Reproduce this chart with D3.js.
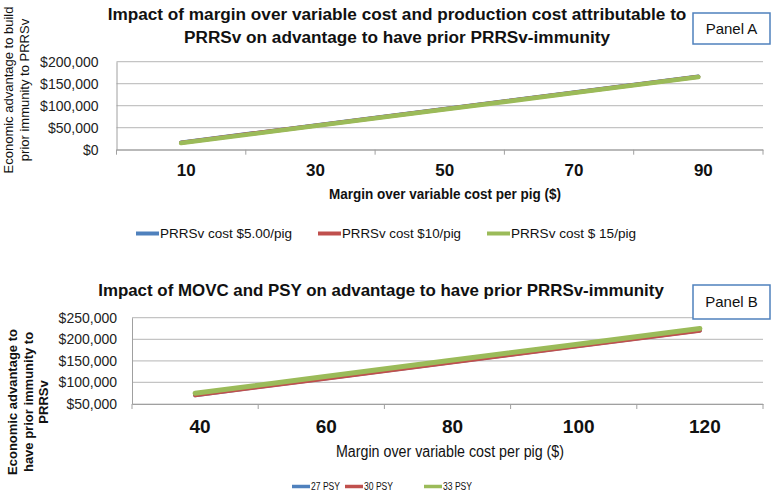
<!DOCTYPE html>
<html>
<head>
<meta charset="utf-8">
<script src="https://cdn.jsdelivr.net/npm/d3@7/dist/d3.min.js"></script>
<style>
  html, body { margin: 0; padding: 0; background: #fff; }
  svg { display: block; font-family: "Liberation Sans", Arial, sans-serif; }
</style>
</head>
<body>
<svg id="chart" width="774" height="493"></svg>
<script>
// ---------- Data ----------
const categoriesA = [10, 30, 50, 70, 90];
const seriesNamesA = ["PRRSv cost $5.00/pig", "PRRSv cost $10/pig", "PRRSv cost $ 15/pig"];
const prrsv5 = [16500, 54000, 91500, 129000, 166500];
const prrsv10 = [16000, 53500, 91000, 128500, 166000];
const prrsv15 = [15000, 52500, 90000, 127500, 165000];
const yTicksA = [0, 50000, 100000, 150000, 200000];

const categoriesB = [40, 60, 80, 100, 120];
const seriesNamesB = ["27 PSY", "30 PSY", "33 PSY"];
const psy27 = [70500, 108000, 145500, 183000, 220500];
const psy30 = [70000, 107500, 145000, 182500, 220000];
const psy33 = [75000, 112500, 150000, 187500, 225000];
const yTicksB = [50000, 100000, 150000, 200000, 250000];

const colors = ["#4F81BD", "#C0504D", "#9BBB59"];
const fmt = v => "$" + d3.format(",")(v);

const svg = d3.select("#chart");

function panel(cfg) {
  const g = svg.append("g");
  const x = d3.scaleBand().domain(cfg.categories).range([cfg.x0, cfg.x1]);
  const y = d3.scaleLinear().domain(cfg.yDomain).range([cfg.y1, cfg.y0]);

  // gridlines
  g.append("g").selectAll("line").data(cfg.yTicks).join("line")
    .attr("x1", cfg.x0).attr("x2", cfg.x1)
    .attr("y1", d => y(d)).attr("y2", d => y(d))
    .attr("stroke", "#c4c4c4").attr("stroke-width", 1.2);

  // y axis
  const ya = g.append("g").attr("transform", `translate(${cfg.x0},0)`)
    .call(d3.axisLeft(y).tickValues(cfg.yTicks).tickFormat(fmt).tickSize(0).tickPadding(cfg.yPad));
  ya.select(".domain").attr("stroke", "#a0a0a0");
  ya.selectAll("text").attr("font-size", cfg.yFont).attr("fill", "#222")
    .attr("font-family", "'Liberation Sans', Arial, sans-serif");

  // x axis
  const xa = g.append("g").attr("transform", `translate(0,${cfg.y1})`)
    .call(d3.axisBottom(x).tickSize(0).tickPadding(cfg.xPad));
  xa.select(".domain").attr("stroke", "#a0a0a0");
  xa.selectAll("text").attr("font-size", cfg.xFont).attr("font-weight", "bold").attr("fill", "#111")
    .attr("dx", cfg.xLabelShift).attr("font-family", "'Liberation Sans', Arial, sans-serif");
  // category boundary ticks
  const bounds = cfg.categories.map(c => x(c)).concat([cfg.x1]);
  g.append("g").selectAll("line").data(bounds).join("line")
    .attr("x1", d => d).attr("x2", d => d)
    .attr("y1", cfg.y1).attr("y2", cfg.y1 + 5)
    .attr("stroke", "#a0a0a0").attr("stroke-width", 1);

  // lines
  const line = d3.line().x((d, i) => x(cfg.categories[i]) + x.bandwidth() / 2).y(d => y(d));
  cfg.series.forEach((s, i) => {
    g.append("path").datum(s).attr("d", line)
      .attr("fill", "none").attr("stroke", colors[i])
      .attr("stroke-width", cfg.lineWidths[i]).attr("stroke-linecap", "round");
  });

  // titles
  cfg.title.forEach((t, i) => {
    g.append("text").attr("x", cfg.titleX).attr("y", cfg.titleY + i * cfg.titleLH)
      .attr("text-anchor", "middle").attr("font-weight", "bold")
      .attr("font-size", cfg.titleFont).attr("fill", "#111").text(t);
  });
  g.append("text").attr("x", cfg.xTitleX).attr("y", cfg.xTitleY)
    .attr("text-anchor", "middle").attr("font-weight", cfg.xTitleWeight)
    .attr("font-size", cfg.xTitleFont).attr("fill", "#111")
    .attr("textLength", cfg.xTitleLen).attr("lengthAdjust", "spacingAndGlyphs")
    .text(cfg.xTitle);

  cfg.yTitle.forEach((t, i) => {
    g.append("text")
      .attr("transform", `translate(${cfg.yTitleX[i]},${cfg.yTitleY}) rotate(-90)`)
      .attr("text-anchor", "middle").attr("font-weight", cfg.yTitleWeight)
      .attr("font-size", cfg.yTitleFont).attr("fill", "#111").text(t);
  });

  // legend
  const lg = g.append("g");
  cfg.seriesNames.forEach((n, i) => {
    const lx = cfg.legendX[i];
    lg.append("line").attr("x1", lx).attr("x2", lx + cfg.legendSw)
      .attr("y1", cfg.legendY).attr("y2", cfg.legendY)
      .attr("stroke", colors[i]).attr("stroke-width", cfg.legendLw);
    lg.append("text").attr("x", lx + cfg.legendSw + 1).attr("y", cfg.legendY)
      .attr("dy", "0.35em").attr("font-size", cfg.legendFont)
      .attr("textLength", cfg.legendLen[i]).attr("lengthAdjust", "spacingAndGlyphs")
      .attr("fill", "#111").text(n);
  });

  // panel box
  g.append("rect").attr("x", cfg.box[0]).attr("y", cfg.box[1])
    .attr("width", cfg.box[2]).attr("height", cfg.box[3])
    .attr("fill", "#fff").attr("stroke", "#4F81BD").attr("stroke-width", 1.5);
  g.append("text").attr("x", cfg.box[0] + cfg.box[2] / 2).attr("y", cfg.box[1] + cfg.box[3] / 2)
    .attr("dy", "0.35em").attr("text-anchor", "middle").attr("font-size", 15)
    .attr("fill", "#111").text(cfg.boxLabel);
}

panel({
  categories: categoriesA, series: [prrsv5, prrsv10, prrsv15], seriesNames: seriesNamesA,
  yDomain: [0, 200000], yTicks: yTicksA,
  x0: 116.5, x1: 763, y0: 61.7, y1: 149.7,
  yPad: 18, yFont: 14, xPad: 14, xFont: 17, xLabelShift: 5,
  lineWidths: [4, 4, 4.5],
  title: ["Impact of margin over variable cost and production cost attributable to",
          "PRRSv on advantage to have prior PRRSv-immunity"],
  titleX: 397, titleY: 20, titleLH: 23, titleFont: 17.2,
  xTitle: "Margin over variable cost per pig ($)", xTitleX: 445, xTitleY: 199, xTitleWeight: "bold", xTitleFont: 15, xTitleLen: 232,
  yTitle: ["Economic advantage to build", "prior immunity to PRRSv"], yTitleX: [13, 29], yTitleY: 90,
  yTitleWeight: "normal", yTitleFont: 13,
  legendX: [136, 318, 487], legendY: 233.5, legendSw: 23, legendLw: 4, legendFont: 13,
  legendLen: [132, 119, 125],
  box: [693, 13, 77, 31], boxLabel: "Panel A"
});

panel({
  categories: categoriesB, series: [psy27, psy30, psy33], seriesNames: seriesNamesB,
  yDomain: [50000, 250000], yTicks: yTicksB,
  x0: 132, x1: 763, y0: 317.7, y1: 404,
  yPad: 15, yFont: 14, xPad: 16, xFont: 19, xLabelShift: 5,
  lineWidths: [4, 4, 5],
  title: ["Impact of MOVC and PSY on advantage to have prior PRRSv-immunity"],
  titleX: 381, titleY: 296, titleLH: 23, titleFont: 16.9,
  xTitle: "Margin over variable cost per pig ($)", xTitleX: 450, xTitleY: 457, xTitleWeight: "normal", xTitleFont: 16, xTitleLen: 228,
  yTitle: ["Economic advantage to", "have prior immunity to", "PRRSv"], yTitleX: [17, 33, 48], yTitleY: 402,
  yTitleWeight: "bold", yTitleFont: 13,
  legendX: [292, 345, 424], legendY: 486.5, legendSw: 18, legendLw: 3.5, legendFont: 10,
  legendLen: [29, 29, 29],
  box: [693, 285, 77, 34], boxLabel: "Panel B"
});
</script>
</body>
</html>
